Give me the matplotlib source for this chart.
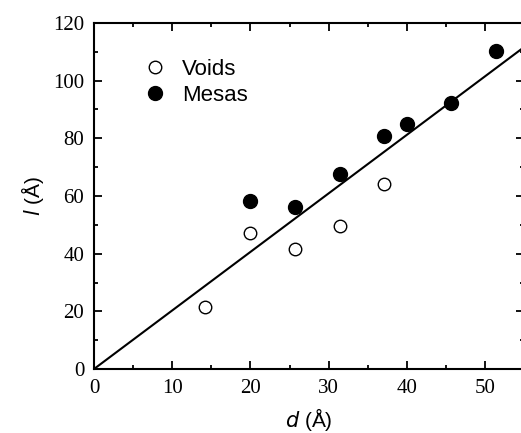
import numpy as np
import matplotlib
matplotlib.use('Agg')
import matplotlib.pyplot as plt
from matplotlib.ticker import MultipleLocator

# data
voids_d = [14.2, 20.0, 25.7, 31.4, 37.1]
voids_l = [21.4, 47.2, 41.6, 49.6, 64.0]
mesas_d = [20.0, 25.7, 31.4, 37.1, 40.0, 45.7, 51.4]
mesas_l = [58.2, 56.2, 67.8, 80.8, 84.8, 92.4, 110.3]
fit_slope = 2.03
fit_d = np.array([0, 56])

fig = plt.figure(figsize=(5.21, 4.33), dpi=100)
ax = fig.add_axes([0.1804, 0.1478, 0.8256, 0.7991])

ax.plot(fit_d, fit_slope * fit_d, color='black', lw=1.5, zorder=1)
ax.plot(voids_d, voids_l, 'o', mfc='white', mec='black', mew=1.0, ms=9, label='Voids', zorder=2)
ax.plot(mesas_d, mesas_l, 'o', mfc='black', mec='black', ms=10, label='Mesas', zorder=2)

ax.set_xlim(0, 55)
ax.set_ylim(0, 120)
ax.xaxis.set_major_locator(MultipleLocator(10))
ax.xaxis.set_minor_locator(MultipleLocator(5))
ax.yaxis.set_major_locator(MultipleLocator(20))
ax.yaxis.set_minor_locator(MultipleLocator(10))
ax.tick_params(which='both', direction='in', top=True, right=True, width=1.3)
ax.tick_params(which='major', length=6, labelsize=15, pad=7)
ax.tick_params(which='minor', length=3)
for lab in ax.get_xticklabels() + ax.get_yticklabels():
    lab.set_family('Liberation Serif')
for sp in ax.spines.values():
    sp.set_linewidth(1.5)

ax.set_xlabel(r'$d$ (Å)', fontsize=15, family='Liberation Sans', labelpad=6)
ax.set_ylabel(r'$l$ (Å)', fontsize=15, family='Liberation Sans', labelpad=5)

ax.legend(loc='upper left', bbox_to_anchor=(0.07, 0.955), frameon=False,
          prop={'family': 'Liberation Sans', 'size': 16}, handletextpad=0.7,
          labelspacing=0.25, handlelength=1.0)

fig.savefig('out.png', dpi=100)
